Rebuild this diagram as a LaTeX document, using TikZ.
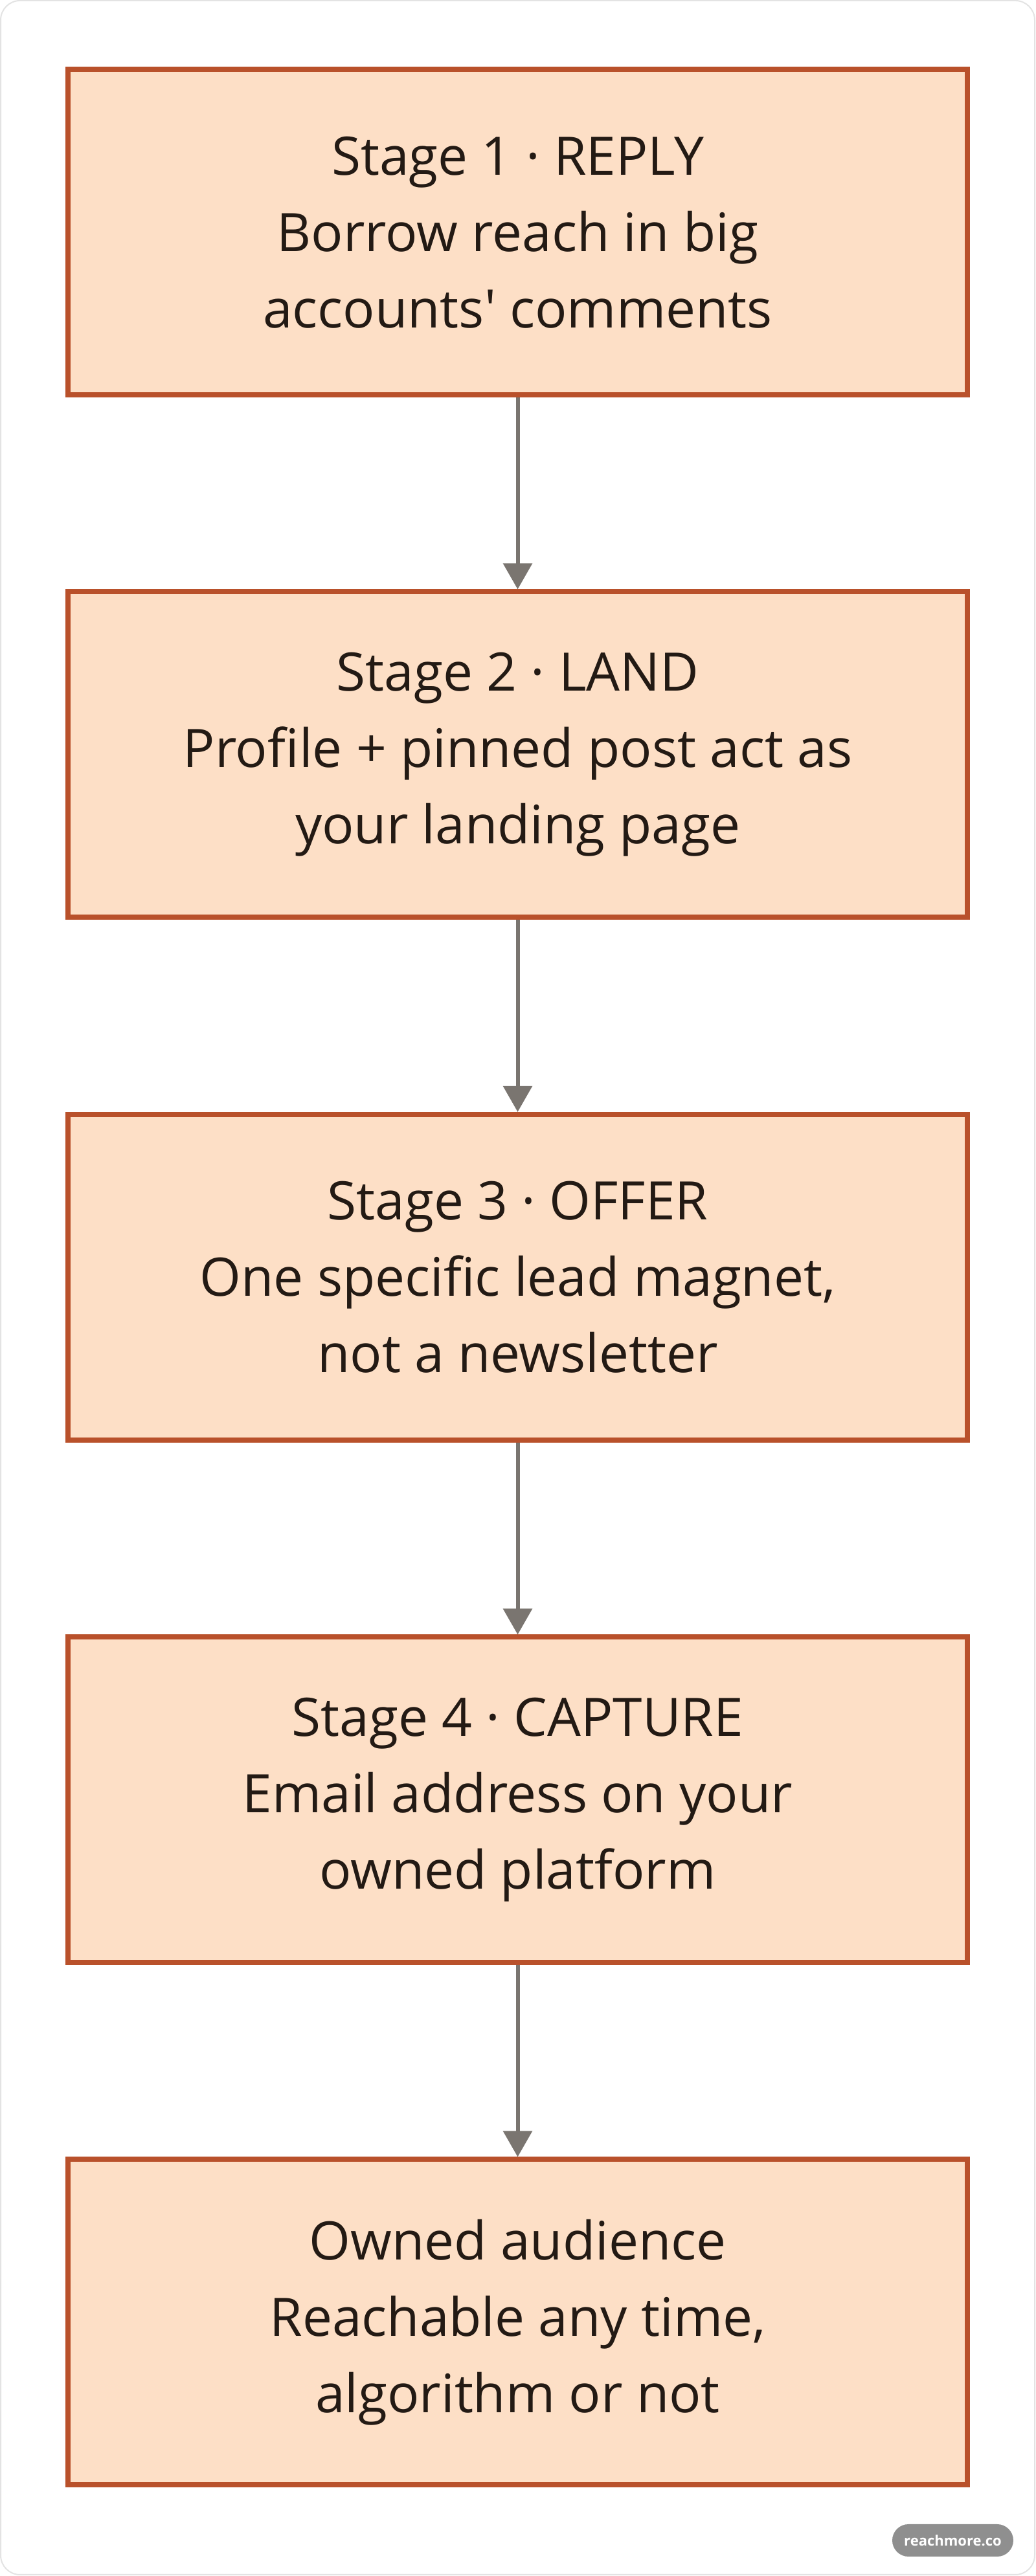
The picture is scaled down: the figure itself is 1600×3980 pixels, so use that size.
\documentclass[tikz,border=0pt]{standalone}
\usepackage{fontspec}
\setmainfont{Open Sans}[Ligatures=TeXOff]
\usetikzlibrary{arrows.meta}
\definecolor{boxfill}{HTML}{FDDFC6}
\definecolor{boxdraw}{HTML}{B9512B}
\definecolor{arrowc}{HTML}{7A7570}
\definecolor{textc}{HTML}{231A14}
\definecolor{framec}{HTML}{E3E3E3}
\definecolor{badgec}{HTML}{8F8F8F}
\tikzset{
  stagebox/.style={draw=boxdraw, fill=boxfill, line width=8pt, rectangle,
    minimum width=1389pt, minimum height=503pt, inner sep=0pt, align=center,
    text=textc, font=\fontsize{82}{118}\selectfont},
  flowarrow/.style={draw=arrowc, line width=6pt, -{Triangle[width=44pt,length=40pt]}},
}
\begin{document}
\begin{tikzpicture}[x=1pt,y=1pt]
\useasboundingbox (0,0) rectangle (1600,3980);
\draw[framec, line width=2pt, fill=white, rounded corners=30pt] (1,2) rectangle (1598,3979);
\node[stagebox] (b1) at (799.5,3621) {Stage 1 · REPLY\\Borrow reach in big\\accounts' comments};
\node[stagebox] (b2) at (799.5,2814) {Stage 2 · LAND\\Profile + pinned post act as\\your landing page};
\node[stagebox] (b3) at (799.5,2006.5) {Stage 3 · OFFER\\One specific lead magnet,\\not a newsletter};
\node[stagebox] (b4) at (799.5,1199) {Stage 4 · CAPTURE\\Email address on your\\owned platform};
\node[stagebox] (b5) at (799.5,392) {Owned audience\\Reachable any time,\\algorithm or not};
\draw[flowarrow] (b1) -- (b2);
\draw[flowarrow] (b2) -- (b3);
\draw[flowarrow] (b3) -- (b4);
\draw[flowarrow] (b4) -- (b5);
\node[fill=badgec, rounded corners=25pt, minimum width=187pt, minimum height=50pt, inner sep=0pt,
  text=white, font=\fontsize{22}{26}\selectfont\bfseries] (badge) at (1471.5,55) {reachmore.co};
\end{tikzpicture}
\end{document}
